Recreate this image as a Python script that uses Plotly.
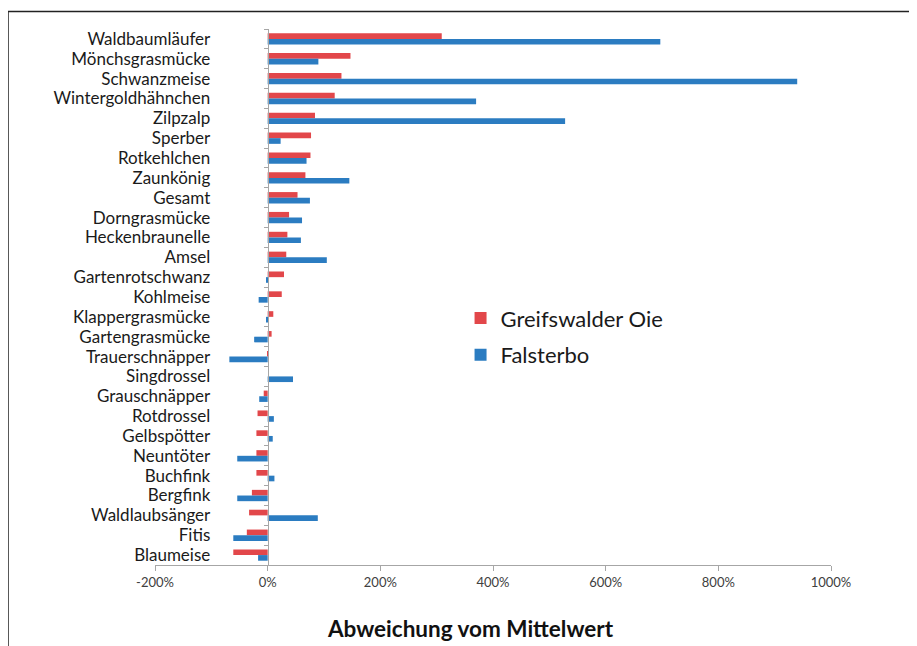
import plotly.graph_objects as go

species = ["Waldbaumläufer", "Mönchsgrasmücke", "Schwanzmeise", "Wintergoldhähnchen",
           "Zilpzalp", "Sperber", "Rotkehlchen", "Zaunkönig", "Gesamt", "Dorngrasmücke",
           "Heckenbraunelle", "Amsel", "Gartenrotschwanz", "Kohlmeise", "Klappergrasmücke",
           "Gartengrasmücke", "Trauerschnäpper", "Singdrossel", "Grauschnäpper", "Rotdrossel",
           "Gelbspötter", "Neuntöter", "Buchfink", "Bergfink", "Waldlaubsänger", "Fitis", "Blaumeise"]

greifswalder = [309, 147, 131, 119, 84, 77, 76, 67, 53, 38,
                35, 33, 29, 25, 10, 7, 2, 0, -7, -18,
                -20, -20, -20, -28, -33, -37, -61]

falsterbo = [697, 90, 940, 370, 528, 23, 69, 145, 75, 61,
             59, 105, -3, -16, -3, -24, -68, 45, -15, 11,
             9, -54, 12, -54, 89, -61, -17]

x_ticks = [-200, 0, 200, 400, 600, 800, 1000]
x_ticklabels = [f"{v}%" for v in x_ticks]

RED = "#E2474A"
BLUE = "#2B7CC1"
FONT = "Lato, Carlito, Calibri, sans-serif"

# page body has an 8px margin; figure is sized to fit the window
W, H = 909, 638
ML, MR, MT, MB = 147, 86, 21, 81
PW, PH = W - ML - MR, H - MT - MB

fig = go.Figure()
fig.add_trace(go.Bar(y=species, x=greifswalder, orientation="h", name="Greifswalder Oie",
                     marker=dict(color=RED, line=dict(width=0)), legendgroup="a"))
fig.add_trace(go.Bar(y=species, x=falsterbo, orientation="h", name="Falsterbo",
                     marker=dict(color=BLUE, line=dict(width=0)), legendgroup="b"))

fig.update_layout(
    width=W, height=H,
    margin=dict(l=ML, r=MR, t=MT, b=MB, autoexpand=False),
    paper_bgcolor="white", plot_bgcolor="white",
    barmode="group", bargap=0.43, bargroupgap=0,
    font=dict(family=FONT, color="#1a1a1a"),
    showlegend=True,
    legend=dict(x=0.452, y=0.4995, xanchor="left", yanchor="top",
                font=dict(size=22, family=FONT, color="#1a1a1a"),
                itemwidth=30, tracegroupgap=5, bgcolor="rgba(0,0,0,0)"),
    xaxis=dict(range=[-200, 1000], tickvals=x_ticks, ticktext=x_ticklabels,
               showgrid=False, zeroline=False, showline=True, linecolor="#A6A6A6",
               linewidth=1, ticks="outside", ticklen=5, tickcolor="#A6A6A6",
               tickfont=dict(size=13, family=FONT, color="#404040"), automargin=False),
    yaxis=dict(categoryorder="array", categoryarray=species, autorange="reversed",
               tickmode="linear", tick0=0, dtick=1,
               anchor="free", position=1/6, showgrid=False, zeroline=False,
               showline=True, linecolor="#A6A6A6", linewidth=1,
               ticks="outside", ticklen=4, tickcolor="#A6A6A6", tickson="boundaries",
               ticklabelstandoff=54,
               tickfont=dict(size=17, family=FONT, color="#1a1a1a"), automargin=False),
    annotations=[dict(text="<b>Abweichung vom Mittelwert</b>", xref="paper", yref="paper",
                      x=(462 - ML) / PW, y=-(620 - (MT + PH)) / PH, xanchor="center", yanchor="middle",
                      showarrow=False, font=dict(size=22.5, family=FONT, color="#111111"))],
    shapes=[dict(type="rect", xref="paper", yref="paper",
                 x0=(0 - ML) / PW, x1=1.5, y0=-0.5, y1=1 + (MT - 3.5) / PH,
                 line=dict(color="#222222", width=1.5), fillcolor="rgba(0,0,0,0)", layer="below")],
)

fig.write_html("out.html")
